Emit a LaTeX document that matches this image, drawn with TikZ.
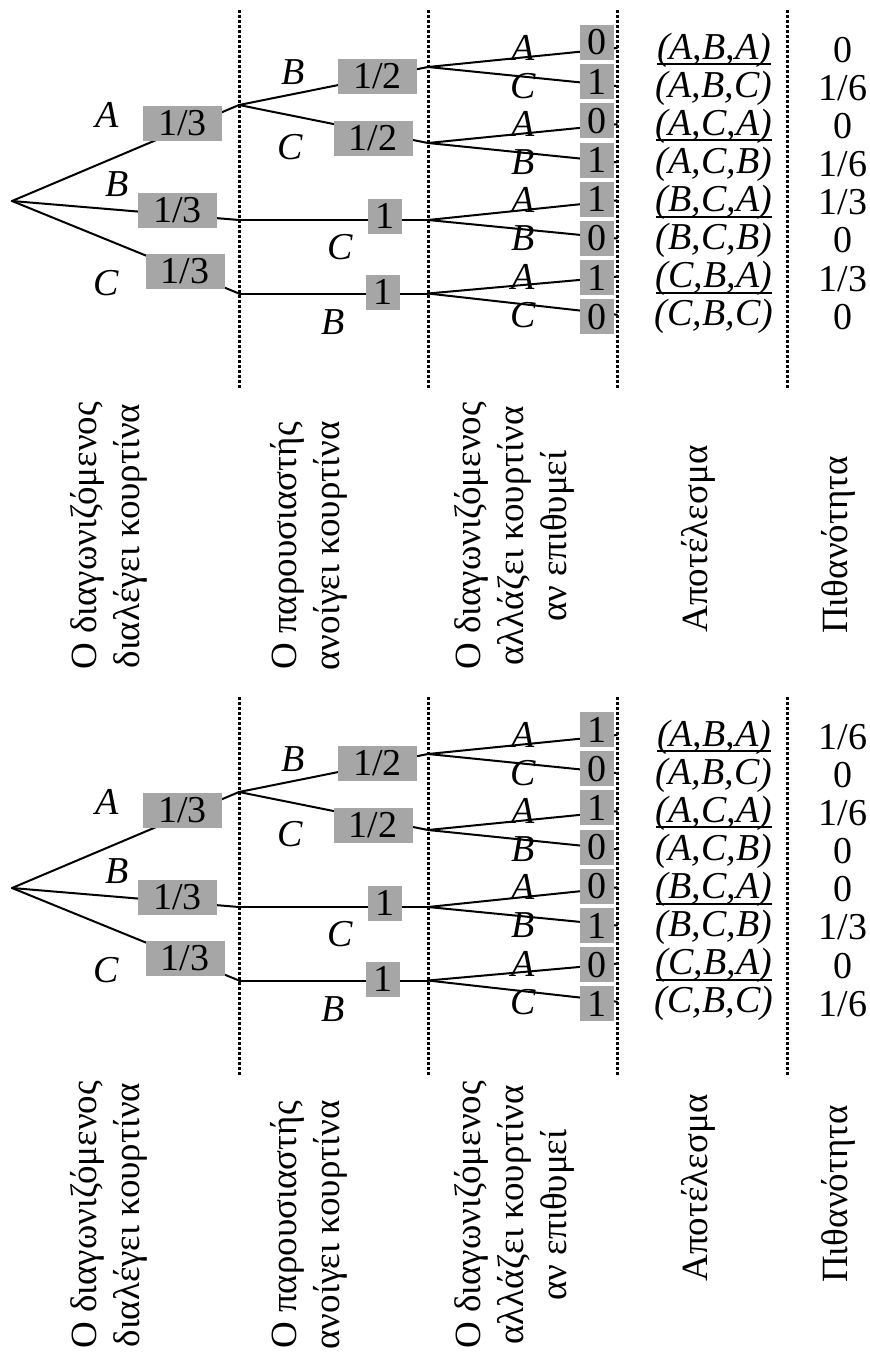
\documentclass[tikz,border=0pt]{standalone}
\usepackage{fontspec}
\setmainfont{Liberation Serif}
\definecolor{boxgray}{RGB}{166,166,166}

\begin{document}
\begin{tikzpicture}[line cap=round,line join=round,x=0.5pt,y=-0.5pt,
    every node/.style={inner sep=0pt,font=\fontsize{19}{21.5}\selectfont},
    prob/.style={fill=boxgray,minimum height=17.5pt},
    branch/.style={line width=1pt},
    divider/.style={line width=1.5pt,line cap=butt,dash pattern=on 1.5pt off 1pt},
    choice/.style={font=\fontsize{19}{21.5}\selectfont\itshape},
    stage/.style={rotate=90,align=center,font=\fontsize{18.5}{21.5}\selectfont}]
  \useasboundingbox (0,0) rectangle (869,1355);
  \foreach \dy/\ly/\ry/\lv/\pv in {0/536/539/{0,1,0,1,1,0,1,0}/{0,1/6,0,1/6,1/3,0,1/3,0},
                                  687/528/501/{1,0,1,0,0,1,0,1}/{1/6,0,1/6,0,0,1/3,0,1/6}}{
  \begin{scope}[shift={(0,\dy)}]
    \foreach \x in {239,428,617,787}
      \draw[divider] (\x,10) -- (\x,388);
    % branching points
    \coordinate (root) at (12,201);
    \coordinate (s1) at (239,105);
    \coordinate (s2) at (239,220);
    \coordinate (s3) at (239,293.5);
    \coordinate (u1) at (428,67);
    \coordinate (u2) at (428,143);
    \coordinate (u3) at (428,220);
    \coordinate (u4) at (428,293.5);
    \foreach \i in {1,...,8}
      \coordinate (e\i) at (617,{48+38.1*(\i-1)});
    % branches
    \foreach \s in {s1,s2,s3}
      \draw[branch] (root) -- (\s);
    \draw[branch] (s1) -- (u1);
    \draw[branch] (s1) -- (u2);
    \draw[branch] (s2) -- (u3);
    \draw[branch] (s3) -- (u4);
    \foreach \j in {1,...,4}{
      \pgfmathtruncatemacro\a{2*\j-1}
      \pgfmathtruncatemacro\b{2*\j}
      \draw[branch] (u\j) -- (e\a);
      \draw[branch] (u\j) -- (e\b);
    }
    % probabilities on the branches
    \node[prob,minimum width=39.5pt] (a1) at (182.5,123.5) {1/3};
    \node[prob,minimum width=39.5pt] (a2) at (177.5,210.5) {1/3};
    \node[prob,minimum width=39.5pt] (a3) at (185,271.5) {1/3};
    \node[prob,minimum width=39.5pt] (b1) at (377.5,76) {1/2};
    \node[prob,minimum width=39.5pt] (b2) at (373,138.5) {1/2};
    \node[prob,minimum width=17pt] (b3) at (385,216) {1};
    \node[prob,minimum width=17pt] (b4) at (383,292) {1};
    \foreach \v [count=\i] in \lv
      \node[prob,minimum width=17pt] (f\i) at (597,{42.5+39.2*(\i-1)}) {\v};
    % curtains
    \node[choice] (ca) at (107,115) {A};
    \node[choice] (cb) at (117,184) {B};
    \node[choice] (cc) at (106,283) {C};
    \node[choice] (hb) at (293,72) {B};
    \node[choice] (hc) at (290,147) {C};
    \node[choice] (hd) at (340,247) {C};
    \node[choice] (he) at (333,322) {B};
    \foreach \l [count=\i] in {A,C,A,B,A,B,A,C}
      \node[choice] (w\i) at (523,{48+38.1*(\i-1)}) {\l};
    % outcomes and their probability
    \foreach \o [count=\i] in {{(A,B,A)},{(A,B,C)},{(A,C,A)},{(A,C,B)},{(B,C,A)},{(B,C,B)},{(C,B,A)},{(C,B,C)}}{
      \node[choice] (o\i) at (714,{50+38.1*(\i-1)}) {\o};
      \ifodd\i
        \draw[line width=1pt,line cap=butt] ([yshift=-2.5pt]o\i.base west) -- ([yshift=-2.5pt]o\i.base east);
      \fi
    }
    \foreach \p [count=\i] in \pv
      \node (q\i) at (843,{50+38.1*(\i-1)}) {\p};
    % stage captions
    \node[stage] (t1) at (108.5,\ly) {Ο διαγωνιζόμενος\\διαλέγει κουρτίνα};
    \node[stage] (t2) at (309,\ly+10) {Ο παρουσιαστής\\ανοίγει κουρτίνα};
    \node[stage] (t3) at (514.5,\ly) {Ο διαγωνιζόμενος\\αλλάζει κουρτίνα\\αν επιθυμεί};
    \node[stage] (t4) at (698.5,\ry) {Αποτέλεσμα};
    \node[stage] (t5) at (838.5,\ry+6) {Πιθανότητα};
  \end{scope}}
\end{tikzpicture}
\end{document}
